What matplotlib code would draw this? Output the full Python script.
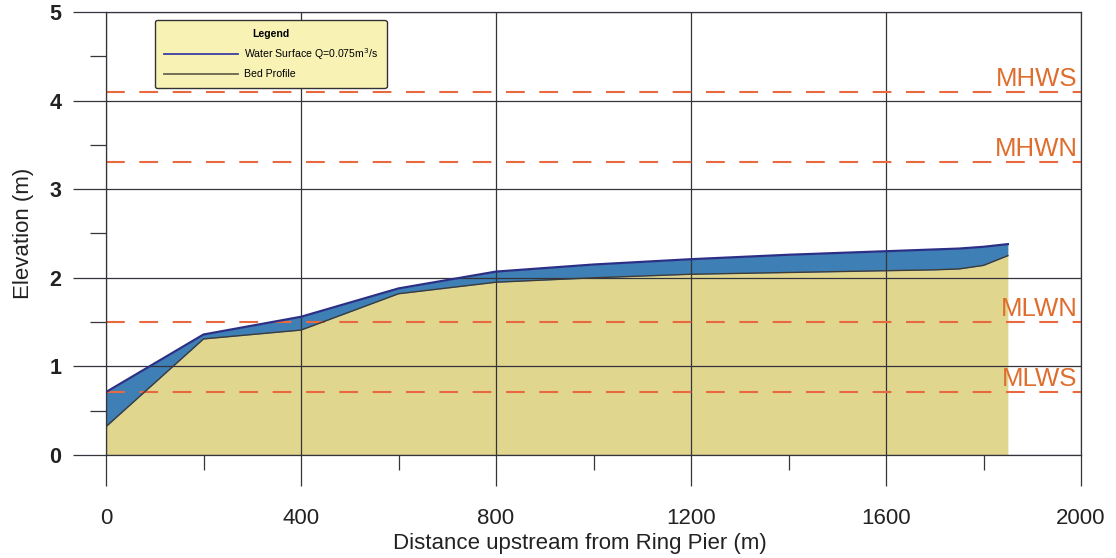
import matplotlib
matplotlib.use("Agg")
import matplotlib.pyplot as plt
from matplotlib.ticker import MultipleLocator
from matplotlib.lines import Line2D

# Data
distance = [0, 200, 400, 600, 800, 1000, 1200, 1400, 1600, 1700, 1750, 1800, 1850]
water_surface = [0.71, 1.36, 1.56, 1.88, 2.07, 2.15, 2.21, 2.26, 2.30, 2.32, 2.33, 2.35, 2.38]
bed_profile = [0.32, 1.31, 1.41, 1.82, 1.95, 2.00, 2.04, 2.06, 2.08, 2.09, 2.10, 2.14, 2.25]
tide_names = ["MHWS", "MHWN", "MLWN", "MLWS"]
tide_levels = [4.1, 3.31, 1.5, 0.71]

plt.rcParams['font.family'] = ['Liberation Sans', 'DejaVu Sans']

fig = plt.figure(figsize=(11.16, 5.58), dpi=100)
ax = fig.add_axes([106/1116, 1-455/558, (1081-106)/1116, (455-12)/558])

bed_col = '#E1D68E'
water_col = '#3E80B5'

ax.fill_between(distance, 0, bed_profile, color=bed_col, zorder=1, linewidth=0)
ax.fill_between(distance, bed_profile, water_surface, color=water_col, zorder=2, linewidth=0)
ax.plot(distance, water_surface, color='#2B2F86', lw=1.6, zorder=4)
ax.plot(distance, bed_profile, color='#3D3A38', lw=1.0, zorder=4)

for name, lvl in zip(tide_names, tide_levels):
    ax.axhline(lvl, color='#E8683F', lw=1.5, dashes=(9, 7), zorder=3)
    ax.text(1993, lvl + 0.065, name, color='#DF6E2E', fontsize=18.5, ha='right', va='baseline', zorder=5)

ax.set_xlim(0, 2000)
ax.set_ylim(0, 5)
ax.xaxis.set_major_locator(MultipleLocator(400))
ax.xaxis.set_minor_locator(MultipleLocator(200))
ax.yaxis.set_major_locator(MultipleLocator(1))
ax.yaxis.set_minor_locator(MultipleLocator(0.5))
ax.grid(True, which='major', color='#34343C', lw=0.9, zorder=2.5)
ax.set_axisbelow(False)
for s in ax.spines.values():
    s.set_color('#34343C')
    s.set_linewidth(0.9)
    s.set_zorder(6)

ax.tick_params(axis='x', which='major', direction='out', length=22, width=0.9, color='#34343C', pad=16, labelsize=16)
ax.tick_params(axis='x', which='minor', direction='out', length=11, width=0.9, color='#34343C')
ax.tick_params(axis='y', which='major', direction='out', length=24, width=0.9, color='#34343C', pad=8, labelsize=15.5)
ax.tick_params(axis='y', which='minor', direction='out', length=11.5, width=0.9, color='#34343C')
for lab in ax.get_yticklabels():
    lab.set_fontweight('bold')
    lab.set_color('#222222')
for lab in ax.get_xticklabels():
    lab.set_color('#222222')

ax.set_xlabel('Distance upstream from Ring Pier (m)', fontsize=16, color='#222222')
ax.xaxis.set_label_coords(0.486, -0.175)
ax.set_ylabel('Elevation (m)', fontsize=16, color='#222222')
ax.yaxis.set_label_coords(-0.074, 0.5)

handles = [Line2D([], [], color='#3A3FA0', lw=1.3),
           Line2D([], [], color='#6B6550', lw=1.3)]
leg = ax.legend(handles, ['Water Surface Q=0.075m$^3$/s', 'Bed Profile'],
                title='Legend', loc='upper left', bbox_to_anchor=(44/975, 0.993),
                fontsize=7.6, title_fontsize=7.6, fancybox=True, framealpha=1,
                facecolor='#F8F3B5', edgecolor='#333333', handlelength=7,
                borderpad=0.8, labelspacing=0.7, handletextpad=0.6)
leg.get_title().set_fontweight('bold')
leg.get_frame().set_linewidth(1.0)
leg.set_zorder(10)

fig.savefig('out.png', dpi=100)
